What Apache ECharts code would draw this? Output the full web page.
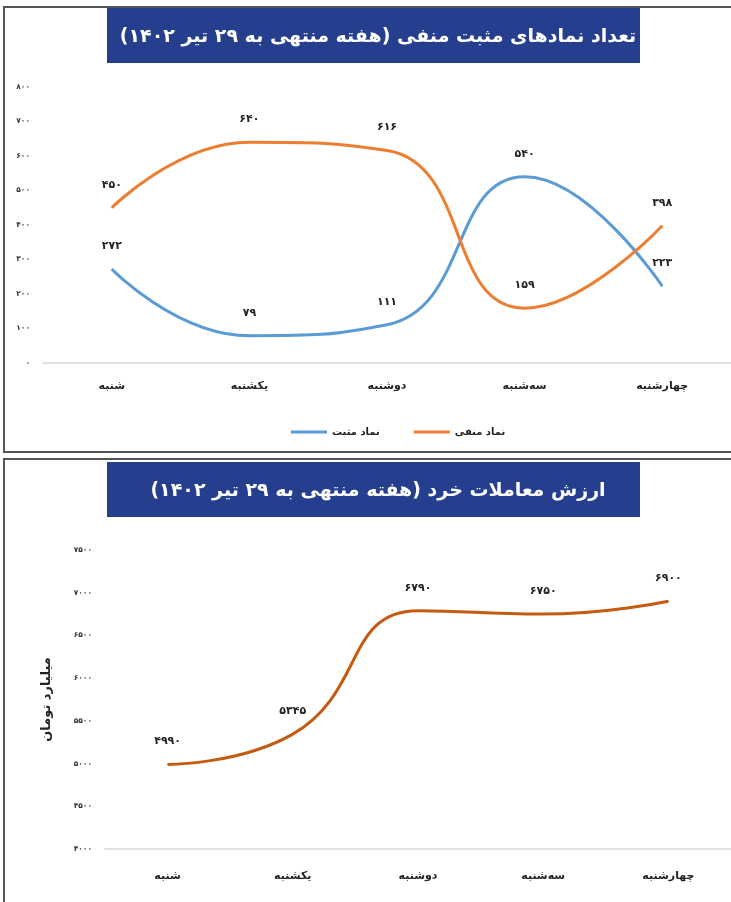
<!DOCTYPE html>
<html>
<head>
<meta charset="utf-8">
<script src="https://cdn.jsdelivr.net/npm/echarts@6/dist/echarts.min.js"></script>
<style>
html,body{margin:0;padding:0;background:#fff;}
#c{width:731px;height:902px;}
</style>
</head>
<body>
<div id="c"></div>
<script>
// ---- data ----
var days = ['شنبه', 'یکشنبه', 'دوشنبه', 'سه‌شنبه', 'چهارشنبه'];
var positiveName = 'نماد مثبت';
var negativeName = 'نماد منفی';
var positiveValues = [272, 79, 111, 540, 223];
var negativeValues = [450, 640, 616, 159, 398];
var tradeValues = [4990, 5345, 6790, 6750, 6900];
var title1 = 'تعداد نمادهای مثبت منفی (هفته منتهی به ۲۹ تیر ۱۴۰۲)';
var title2 = 'ارزش معاملات خرد (هفته منتهی به ۲۹ تیر ۱۴۰۲)';
var yName2 = 'میلیارد تومان';

var RLM = '\u200F';
function fa(n) {
  return String(n).replace(/\d/g, function (d) { return '۰۱۲۳۴۵۶۷۸۹'[d]; });
}
var FONT = '"DejaVu Sans", sans-serif';

var chart = echarts.init(document.getElementById('c'), null, {renderer: 'canvas'});

var labelStyle = {
  show: true, position: 'top', distance: 17,
  fontFamily: FONT, fontWeight: 'bold', fontSize: 11, color: '#222',
  formatter: function (p) { return fa(p.value); }
};

function lineSeries(name, xi, data, color) {
  return {
    name: name, type: 'line', xAxisIndex: xi, yAxisIndex: xi, data: data,
    smooth: 0.5, showSymbol: true, symbol: 'circle', symbolSize: 1,
    lineStyle: {color: color, width: 3}, itemStyle: {color: color},
    label: labelStyle
  };
}

var option = {
  backgroundColor: '#fff',
  animation: false,
  title: [
    {text: RLM + title1 + RLM, left: 373, top: 23, textAlign: 'center',
     textStyle: {color: '#fff', fontFamily: FONT, fontWeight: 'bold', fontSize: 19}},
    {text: RLM + title2 + RLM, left: 373, top: 477, textAlign: 'center',
     textStyle: {color: '#fff', fontFamily: FONT, fontWeight: 'bold', fontSize: 19}}
  ],
  legend: {
    data: [positiveName, negativeName],
    left: 286, top: 422,
    itemWidth: 36, itemHeight: 3, itemGap: 34,
    icon: 'rect',
    formatter: function (n) { return RLM + n + RLM; },
    textStyle: {fontFamily: FONT, fontWeight: 'bold', fontSize: 10, color: '#222'}
  },
  grid: [
    {left: 43, top: 87, width: 699, height: 276},
    {left: 105, top: 550, width: 630, height: 299}
  ],
  xAxis: [
    {type: 'category', gridIndex: 0, data: days, boundaryGap: true,
     axisLine: {lineStyle: {color: '#d9d9d9', width: 1.5}}, axisTick: {show: false},
     axisLabel: {margin: 18, fontFamily: FONT, fontWeight: 'bold', fontSize: 11, color: '#222'}},
    {type: 'category', gridIndex: 1, data: days, boundaryGap: true,
     axisLine: {lineStyle: {color: '#d9d9d9', width: 1.5}}, axisTick: {show: false},
     axisLabel: {margin: 22, fontFamily: FONT, fontWeight: 'bold', fontSize: 11, color: '#222'}}
  ],
  yAxis: [
    {type: 'value', gridIndex: 0, min: 0, max: 800, interval: 100,
     axisLine: {show: false}, axisTick: {show: false}, splitLine: {show: false},
     axisLabel: {margin: 13, fontFamily: FONT, fontWeight: 'bold', fontSize: 7.5, color: '#333',
                 formatter: function (v) { return fa(v); }}},
    {type: 'value', gridIndex: 1, min: 4000, max: 7500, interval: 500,
     name: RLM + yName2 + RLM, nameLocation: 'middle', nameRotate: 90, nameGap: 52,
     nameTextStyle: {fontFamily: FONT, fontWeight: 'bold', fontSize: 13, color: '#222'},
     axisLine: {show: false}, axisTick: {show: false}, splitLine: {show: false},
     axisLabel: {margin: 13, fontFamily: FONT, fontWeight: 'bold', fontSize: 7.5, color: '#333',
                 formatter: function (v) { return fa(v); }}}
  ],
  series: [
    lineSeries(positiveName, 0, positiveValues, '#5b9bd5'),
    lineSeries(negativeName, 0, negativeValues, '#ed7d31'),
    lineSeries('trade', 1, tradeValues, '#c55a11')
  ],
  graphic: [
    {type: 'rect', shape: {x: 4, y: 7, width: 740, height: 445}, z: -10,
     style: {fill: '#fff', stroke: '#555', lineWidth: 2}},
    {type: 'rect', shape: {x: 4, y: 459, width: 740, height: 460}, z: -10,
     style: {fill: '#fff', stroke: '#555', lineWidth: 2}},
    {type: 'rect', shape: {x: 107, y: 8, width: 533, height: 55}, z: -5,
     style: {fill: '#253f8e'}},
    {type: 'rect', shape: {x: 107, y: 462, width: 533, height: 55}, z: -5,
     style: {fill: '#253f8e'}}
  ]
};
chart.setOption(option);
</script>
</body>
</html>
